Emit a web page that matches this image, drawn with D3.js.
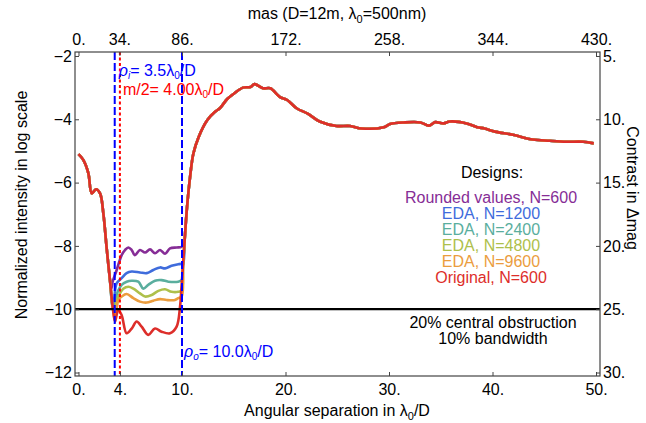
<!DOCTYPE html>
<html>
<head>
<meta charset="utf-8">
<script src="https://cdn.jsdelivr.net/npm/d3@7"></script>
<style>
  body { margin: 0; background: #fff; }
  text { font-family: "Liberation Sans", Arial, sans-serif; }
</style>
</head>
<body>
<svg width="646" height="423"></svg>
<script>
// ---- data ----
const bottomTicks = [0, 4, 10, 20, 30, 40, 50];
const masTicks = [0, 34, 86, 172, 258, 344, 430];
const leftTicks = [-2, -4, -6, -8, -10, -12];
const rightTicks = [5, 10, 15, 20, 25, 30];

const designNames = ['Rounded values, N=600', 'EDA, N=1200', 'EDA, N=2400', 'EDA, N=4800', 'EDA, N=9600', 'Original, N=600'];
const designColors = ['#862d96', '#3f6cdc', '#5aae9e', '#aec04b', '#eb9d3e', '#dd2e2a'];

// original design, full curve
const originalX = [0.0, 0.46, 0.95, 1.28, 1.69, 2.08, 2.40, 2.71, 3.04, 3.30, 3.53, 3.84, 4.17, 4.65, 5.14, 5.62, 6.10, 6.74, 7.39, 8.03, 8.84, 9.48, 9.81, 9.95, 10.10, 10.28, 10.48, 10.77, 11.10, 11.63, 12.45, 13.16, 13.66, 14.37, 14.98, 15.89, 16.61, 17.01, 17.82, 18.53, 19.44, 20.16, 21.07, 22.18, 23.30, 24.92, 26.24, 27.36, 29.49, 30.10, 31.42, 33.04, 33.85, 34.46, 35.27, 35.88, 37.50, 38.52, 39.23, 40.24, 41.97, 43.89, 45.52, 47.14, 48.76, 49.78];
const originalY = [-5.10, -5.28, -5.70, -6.34, -6.21, -6.34, -6.97, -8.03, -9.08, -9.92, -10.39, -10.02, -10.19, -10.76, -10.61, -10.39, -10.55, -10.81, -10.61, -10.71, -10.76, -10.55, -9.92, -9.3, -8.6, -7.7, -6.8, -5.85, -5.08, -4.54, -4.02, -3.77, -3.65, -3.36, -3.20, -3.00, -2.98, -2.89, -3.02, -3.02, -3.29, -3.39, -3.65, -3.83, -4.07, -4.21, -4.21, -4.29, -4.25, -4.15, -4.10, -4.10, -4.20, -4.09, -4.13, -4.07, -4.13, -4.25, -4.29, -4.39, -4.49, -4.64, -4.68, -4.71, -4.71, -4.76];

// the other designs only differ inside the dark hole
const roundedX = [3.17, 3.30, 3.69, 4.17, 4.49, 4.82, 5.14, 5.45, 5.94, 6.43, 6.91, 7.39, 7.88, 8.36, 8.84, 9.48, 9.97, 10.2];
const roundedY = [-9.35, -9.13, -8.76, -8.29, -8.13, -8.05, -8.13, -8.29, -8.13, -8.21, -8.11, -8.23, -8.13, -8.25, -8.08, -8.05, -8.03, -7.95];
const eda1200X = [3.42, 3.69, 4.17, 4.65, 5.14, 5.94, 6.59, 7.23, 7.88, 8.36, 8.99, 9.64, 9.97];
const eda1200Y = [-9.76, -9.18, -9.02, -8.86, -8.81, -8.84, -8.86, -8.76, -8.68, -8.71, -8.63, -8.58, -8.57];
const eda2400X = [3.45, 3.69, 3.85, 4.17, 4.65, 5.14, 5.78, 6.26, 6.74, 7.39, 8.03, 8.68, 9.64, 9.97];
const eda2400Y = [-10.0, -9.55, -9.40, -9.23, -9.13, -9.10, -9.13, -9.35, -9.23, -9.10, -9.08, -9.13, -9.13, -9.08];
const eda4800X = [3.50, 3.70, 3.85, 4.33, 4.82, 5.30, 5.94, 6.43, 7.07, 7.72, 8.36, 8.99, 9.64, 9.97];
const eda4800Y = [-10.1, -9.75, -9.60, -9.35, -9.29, -9.35, -9.50, -9.60, -9.55, -9.42, -9.37, -9.45, -9.45, -9.40];
const eda9600X = [3.55, 3.72, 3.85, 4.17, 4.65, 5.30, 5.94, 6.59, 7.23, 7.88, 8.52, 9.32, 9.64, 9.97];
const eda9600Y = [-10.2, -9.9, -9.71, -9.60, -9.52, -9.65, -9.76, -9.79, -9.73, -9.68, -9.71, -9.71, -9.65, -9.60];

const innerRadius = 3.5;
const halfM = 4.0;
const outerRadius = 10.0;
const contrastLimit = -10;

// ---- layout ----
const svg = d3.select('svg');
const plotLeft = 75, plotRight = 600, plotTop = 52, plotBottom = 376;
const fontSize = '16px';

const x = d3.scaleLinear().domain([-0.338, 50.386]).range([plotLeft, plotRight]);
const y = d3.scaleLinear().domain([-12.11, -1.874]).range([plotBottom, plotTop]);
const xMas = d3.scaleLinear().domain(x.domain().map(v => v * 8.6)).range([plotLeft, plotRight]);
const yMag = d3.scaleLinear().domain(y.domain().map(v => -2.5 * v)).range([plotBottom, plotTop]);

const frameColor = '#444';

function withHole(hx, hy) {
  const pts = [];
  originalX.forEach((v, i) => { if (v < hx[0]) pts.push([v, originalY[i]]); });
  hx.forEach((v, i) => pts.push([v, hy[i]]));
  originalX.forEach((v, i) => { if (v > hx[hx.length - 1]) pts.push([v, originalY[i]]); });
  return pts;
}

const series = [
  withHole(roundedX, roundedY),
  withHole(eda1200X, eda1200Y),
  withHole(eda2400X, eda2400Y),
  withHole(eda4800X, eda4800Y),
  withHole(eda9600X, eda9600Y),
  originalX.map((v, i) => [v, originalY[i]])
];

const line = d3.line()
  .x(d => x(d[0]))
  .y(d => y(d[1]))
  .curve(d3.curveCatmullRom.alpha(0.5));

const plot = svg.append('g');

plot.selectAll('path.curve')
  .data(series)
  .join('path')
    .attr('class', 'curve')
    .attr('d', line)
    .attr('fill', 'none')
    .attr('stroke', (d, i) => designColors[i])
    .attr('stroke-width', 2.6)
    .attr('stroke-linejoin', 'round');

// contrast floor
plot.append('line')
  .attr('x1', plotLeft).attr('x2', plotRight)
  .attr('y1', y(contrastLimit)).attr('y2', y(contrastLimit))
  .attr('stroke', '#000')
  .attr('stroke-width', 2.2);

// inner / outer working angle and m/2
plot.selectAll('line.wa')
  .data([innerRadius, outerRadius])
  .join('line')
    .attr('class', 'wa')
    .attr('x1', d => x(d)).attr('x2', d => x(d))
    .attr('y1', plotTop).attr('y2', plotBottom)
    .attr('stroke', '#0000ff')
    .attr('stroke-width', 2)
    .attr('stroke-dasharray', '8,3');

plot.append('line')
  .attr('x1', x(halfM)).attr('x2', x(halfM))
  .attr('y1', plotTop).attr('y2', plotBottom)
  .attr('stroke', '#ff0000')
  .attr('stroke-width', 2)
  .attr('stroke-dasharray', '3,2.5');

// ---- axes ----
function styleAxis(g) {
  g.select('.domain').remove();
  g.selectAll('line').attr('stroke', frameColor);
  g.selectAll('text')
    .attr('fill', '#000')
    .style('font-size', fontSize)
    .style('font-family', '"Liberation Sans", Arial, sans-serif');
}

svg.append('g')
  .attr('transform', `translate(0, ${plotBottom})`)
  .call(d3.axisBottom(x).tickValues(bottomTicks).tickSize(-4).tickPadding(8).tickFormat(d => d + '.'))
  .call(styleAxis);

svg.append('g')
  .attr('transform', `translate(0, ${plotTop})`)
  .call(d3.axisTop(xMas).tickValues(masTicks).tickSize(-4).tickPadding(7).tickFormat(d => d + '.'))
  .call(styleAxis);

svg.append('g')
  .attr('transform', `translate(${plotLeft}, 0)`)
  .call(d3.axisLeft(y).tickValues(leftTicks).tickSize(-4).tickPadding(3).tickFormat(d => '\u2212' + Math.abs(d)))
  .call(styleAxis);

svg.append('g')
  .attr('transform', `translate(${plotRight}, 0)`)
  .call(d3.axisRight(yMag).tickValues(rightTicks).tickSize(-4).tickPadding(3).tickFormat(d => d + '.'))
  .call(styleAxis);

svg.append('rect')
  .attr('x', plotLeft).attr('y', plotTop)
  .attr('width', plotRight - plotLeft).attr('height', plotBottom - plotTop)
  .attr('fill', 'none')
  .attr('stroke', frameColor)
  .attr('stroke-width', 1.2);

// ---- axis titles ----
const bottomTitle = svg.append('text')
  .attr('x', 337).attr('y', 416)
  .attr('text-anchor', 'middle')
  .style('font-size', fontSize);
bottomTitle.append('tspan').text('Angular separation in \u03bb');
bottomTitle.append('tspan').attr('dy', 4).style('font-size', '11px').text('0');
bottomTitle.append('tspan').attr('dy', -4).text('/D');

const topTitle = svg.append('text')
  .attr('x', 337).attr('y', 19)
  .attr('text-anchor', 'middle')
  .style('font-size', fontSize);
topTitle.append('tspan').text('mas (D=12m, \u03bb');
topTitle.append('tspan').attr('dy', 4).style('font-size', '11px').text('0');
topTitle.append('tspan').attr('dy', -4).text('=500nm)');

svg.append('text')
  .attr('transform', 'translate(27, 205) rotate(-90)')
  .attr('text-anchor', 'middle')
  .style('font-size', fontSize)
  .text('Normalized intensity in log scale');

svg.append('text')
  .attr('transform', 'translate(627, 188) rotate(90)')
  .attr('text-anchor', 'middle')
  .style('font-size', fontSize)
  .text('Contrast in \u0394mag');

// ---- annotations ----
function radiusLabel(xPos, yPos, sub, value, color) {
  const t = svg.append('text')
    .attr('x', xPos).attr('y', yPos)
    .attr('fill', color)
    .style('font-size', fontSize);
  if (sub) {
    t.append('tspan').style('font-style', 'italic').text('\u03c1');
    t.append('tspan').attr('dy', 3).style('font-size', '10px').style('font-style', 'italic').text(sub);
    t.append('tspan').attr('dy', -3).text('= ' + value + '\u03bb');
  } else {
    t.append('tspan').text('m/2= ' + value + '\u03bb');
  }
  t.append('tspan').attr('dy', 3).style('font-size', '10px').text('0');
  t.append('tspan').attr('dy', -3).text('/D');
}

radiusLabel(x(innerRadius) + 4, 76, 'i', innerRadius.toFixed(1), '#0000ff');
radiusLabel(x(halfM) + 3, 95, null, halfM.toFixed(2), '#ff0000');
radiusLabel(x(outerRadius) + 2, 357, 'o', outerRadius.toFixed(1), '#0000ff');

// ---- legend ----
svg.append('text')
  .attr('x', 492).attr('y', 178)
  .attr('text-anchor', 'middle')
  .style('font-size', fontSize)
  .text('Designs:');

svg.selectAll('text.legend')
  .data(designNames)
  .join('text')
    .attr('class', 'legend')
    .attr('x', 491)
    .attr('y', (d, i) => 203 + i * 16)
    .attr('text-anchor', 'middle')
    .attr('fill', (d, i) => designColors[i])
    .style('font-size', fontSize)
    .text(d => d);

svg.append('text')
  .attr('x', 493).attr('y', 328)
  .attr('text-anchor', 'middle')
  .style('font-size', fontSize)
  .text('20% central obstruction');

svg.append('text')
  .attr('x', 493).attr('y', 344)
  .attr('text-anchor', 'middle')
  .style('font-size', fontSize)
  .text('10% bandwidth');
</script>
</body>
</html>
